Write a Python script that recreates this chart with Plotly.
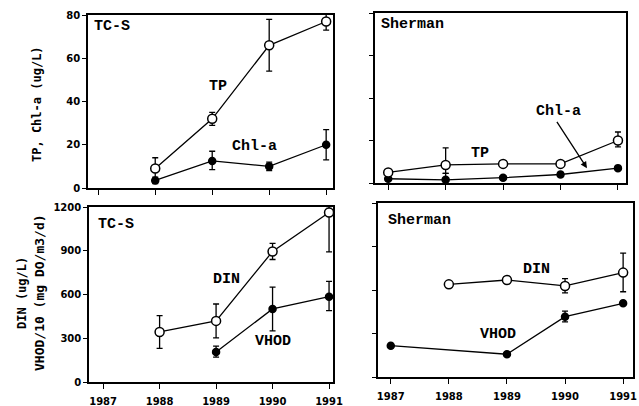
import plotly.graph_objects as go

# ---- data ----
years_tcs = [1988, 1989, 1990, 1991]
tp_tcs = [9, 32, 66, 77]
tp_tcs_hi = [5, 3, 12, 4]
tp_tcs_lo = [5, 3, 12, 4]
chl_tcs = [3.5, 12.5, 10, 20]
chl_tcs_hi = [1.5, 4.5, 2, 7]
chl_tcs_lo = [1.5, 4, 2, 7]

years_sh = [1987, 1988, 1989, 1990, 1991]
tp_sh = [5, 8.5, 9, 9, 20]
tp_sh_hi = [0, 8, 1.5, 0, 4]
tp_sh_lo = [0, 4, 1.5, 0, 3]
chl_sh = [2, 1.5, 2.5, 4, 7]
chl_sh_hi = [0, 3, 1, 1, 0]
chl_sh_lo = [0, 3, 1, 1, 0]

din_tcs_years = [1988, 1989, 1990, 1991]
din_tcs = [343, 419, 895, 1162]
din_tcs_hi = [112, 116, 55, 40]
din_tcs_lo = [112, 117, 55, 270]
vhod_tcs_years = [1989, 1990, 1991]
vhod_tcs = [206, 501, 585]
vhod_tcs_hi = [40, 150, 105]
vhod_tcs_lo = [35, 150, 95]

din_sh_years = [1988, 1989, 1990, 1991]
din_sh = [639, 669, 628, 720]
din_sh_hi = [0, 0, 50, 135]
din_sh_lo = [0, 0, 48, 132]
vhod_sh_years = [1987, 1989, 1990, 1991]
vhod_sh = [216, 157, 416, 508]
vhod_sh_hi = [0, 0, 38, 0]
vhod_sh_lo = [0, 0, 36, 0]

x_ticks = [1987, 1988, 1989, 1990, 1991]
y_ticks_top = [0, 20, 40, 60, 80]
y_ticks_bot = [0, 300, 600, 900, 1200]

W, H = 639, 406
fig = go.Figure()

def add(x, y, hi, lo, filled, xa, ya):
    fig.add_trace(go.Scatter(
        x=x, y=y, mode="lines+markers", xaxis=xa, yaxis=ya,
        line=dict(color="black", width=1.3),
        marker=dict(symbol="circle", size=7 if filled else 9,
                    color="black" if filled else "white",
                    line=dict(color="black", width=1.5)),
        error_y=dict(type="data", array=hi, arrayminus=lo, symmetric=False,
                     color="black", thickness=1.3, width=3),
        showlegend=False, cliponaxis=False, hoverinfo="skip"))

add(years_tcs, chl_tcs, chl_tcs_hi, chl_tcs_lo, True, "x", "y")
add(years_tcs, tp_tcs, tp_tcs_hi, tp_tcs_lo, False, "x", "y")
add(years_sh, chl_sh, chl_sh_hi, chl_sh_lo, True, "x2", "y2")
add(years_sh, tp_sh, tp_sh_hi, tp_sh_lo, False, "x2", "y2")
add(vhod_tcs_years, vhod_tcs, vhod_tcs_hi, vhod_tcs_lo, True, "x3", "y3")
add(din_tcs_years, din_tcs, din_tcs_hi, din_tcs_lo, False, "x3", "y3")
add(vhod_sh_years, vhod_sh, vhod_sh_hi, vhod_sh_lo, True, "x4", "y4")
add(din_sh_years, din_sh, din_sh_hi, din_sh_lo, False, "x4", "y4")

def px_x(a, b):
    return [a / W, b / W]

def px_y(top, bottom):
    return [1 - bottom / H, 1 - top / H]

tickfont = dict(family="DejaVu Sans", size=10, color="black", weight="bold")

def xaxis(dom, rng, anchor, labels):
    return dict(domain=px_x(*dom), range=rng, anchor=anchor, automargin=False,
                tickvals=x_ticks, showticklabels=labels, ticks="outside",
                ticklen=5, tickwidth=1.3, tickcolor="black", ticklabelstandoff=4,
                showline=True, linecolor="black", linewidth=1.5, mirror=True,
                showgrid=False, zeroline=False, tickfont=tickfont)

def yaxis(dom, rng, anchor, ticks, labels):
    return dict(domain=px_y(*dom), range=rng, anchor=anchor, automargin=False,
                tickvals=ticks, showticklabels=labels, ticks="outside",
                ticklen=4, tickwidth=1.3, tickcolor="black",
                showline=True, linecolor="black", linewidth=1.5, mirror=True,
                showgrid=False, zeroline=False, tickfont=tickfont)

fig.update_layout(
    width=W, height=H, margin=dict(l=0, r=0, t=0, b=0),
    paper_bgcolor="white", plot_bgcolor="white",
    xaxis=xaxis((88, 333), [1986.82, 1991.12], "y", False),
    yaxis=yaxis((15, 188), [0, 80], "x", y_ticks_top, True),
    xaxis2=xaxis((375, 626), [1986.77, 1991.14], "y2", False),
    yaxis2=yaxis((13, 183), [0, 80], "x2", y_ticks_top, False),
    xaxis3=xaxis((89, 333), [1986.75, 1991.07], "y3", True),
    yaxis3=yaxis((207, 382), [0, 1200], "x3", y_ticks_bot, True),
    xaxis4=xaxis((378, 633), [1986.78, 1991.17], "y4", True),
    yaxis4=yaxis((203, 377), [0, 1200], "x4", y_ticks_bot, False),
)

lab = dict(family="Liberation Mono", size=15, color="black", weight="bold")

def note(text, xr, yr, x, y, anchor="left"):
    fig.add_annotation(text=text, xref=xr, yref=yr, x=x, y=y, showarrow=False,
                       xanchor=anchor, yanchor="middle", font=lab)

note("TC-S", "x domain", "y domain", 0.015, 0.935)
note("Sherman", "x2 domain", "y2 domain", 0.015, 0.93)
note("TC-S", "x3 domain", "y3 domain", 0.03, 0.9)
note("Sherman", "x4 domain", "y4 domain", 0.03, 0.9)
note("TP", "x", "y", 1989.1, 47, "center")
note("Chl-a", "x", "y", 1989.75, 19, "center")
note("TP", "x2", "y2", 1988.6, 14, "center")
note("Chl-a", "x2", "y2", 1989.97, 33.5, "center")
note("DIN", "x3", "y3", 1989.18, 706, "center")
note("VHOD", "x3", "y3", 1990.0, 275, "center")
note("DIN", "x4", "y4", 1989.5, 740, "center")
note("VHOD", "x4", "y4", 1988.85, 295, "center")

# arrow from the Sherman "Chl-a" label to its line
fig.add_annotation(text="", xref="x2", yref="y2", x=1990.46, y=7.0,
                   ax=1989.92, ay=29.5, axref="x2", ayref="y2",
                   showarrow=True, arrowhead=2, arrowsize=1, arrowwidth=1.3,
                   arrowcolor="black", font=dict(size=1))

ttl = dict(family="DejaVu Sans Mono", size=12, color="black", weight="bold")
for text, px, py, sz in [("TP, Chl-a (ug/L)", 37, 104, 12),
                         ("DIN (ug/L)", 22, 293, 12),
                         ("VHOD/10 (mg DO/m3/d)", 39, 293, 13)]:
    fig.add_annotation(text=text, xref="paper", yref="paper",
                       x=px / W, y=1 - py / H, xanchor="center", yanchor="middle",
                       textangle=-90, showarrow=False, font=dict(ttl, size=sz))

fig.write_html("out.html", config={"displayModeBar": False},
               post_script="document.body.style.margin='0';document.body.style.overflow='hidden';")
